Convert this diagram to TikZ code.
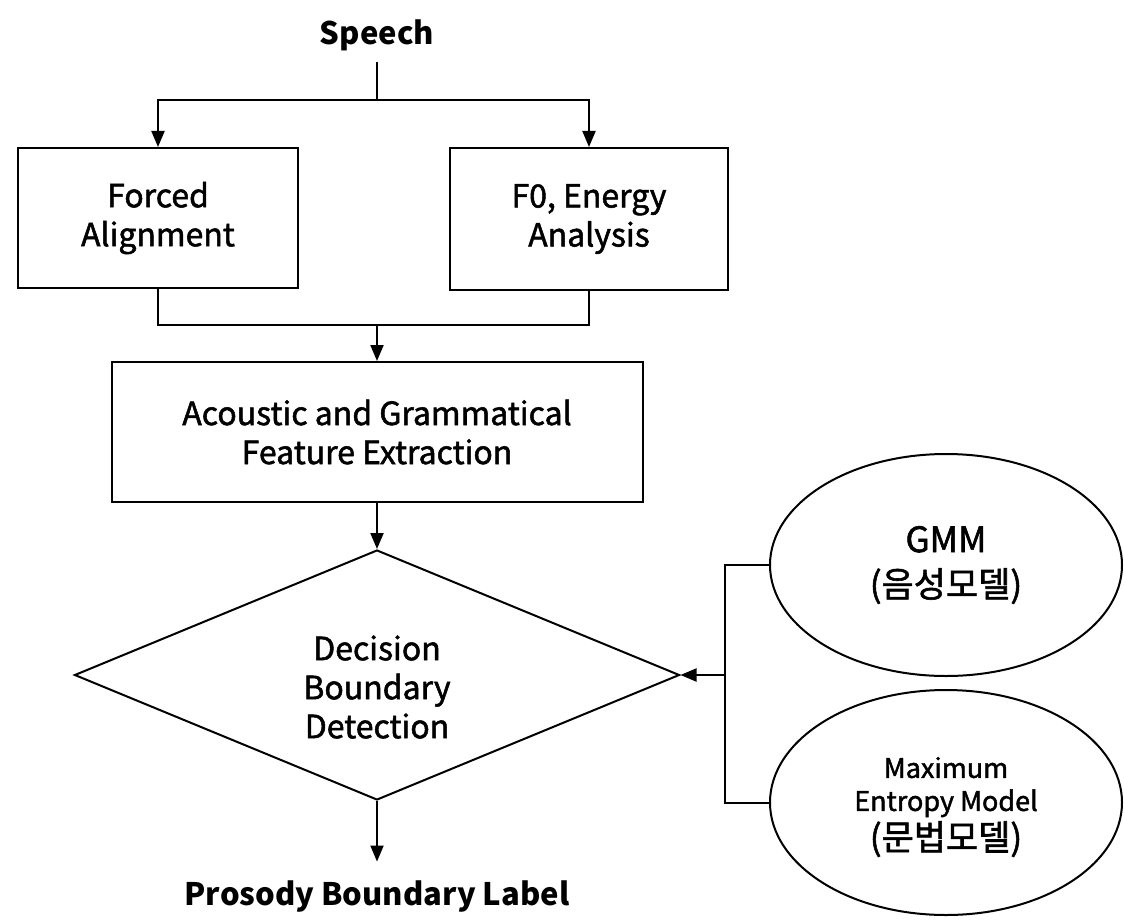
\documentclass[tikz,border=0pt]{standalone}
\usepackage{fontspec}
\setmainfont{Noto Sans CJK KR}
\newfontfamily\medfont{Noto Sans CJK KR}[FakeBold=1.6]
\usetikzlibrary{shapes.geometric,arrows.meta}
\begin{document}
\begin{tikzpicture}[x=0.5pt,y=-0.5pt,
  line width=1pt,
  arr/.style={-{Triangle[length=8pt,width=6.5pt]}},
  mainfont/.style={font=\medfont\fontsize{16}{19.5}\selectfont},
  procbox/.style={draw,rectangle,inner sep=0pt,align=center,mainfont},
  titletext/.style={font=\bfseries\fontsize{15.5}{19}\selectfont},
  model/.style={draw,ellipse,minimum width=176pt,minimum height=111pt,inner sep=0pt}]
\useasboundingbox (0,0) rectangle (1124,920);
\node[titletext] (speech) at (377,35) {Speech};
\coordinate (sp) at (377,62);
\coordinate (fork) at (377,100);
\node[procbox,minimum width=140pt,minimum height=70pt] (fa) at (158,218) {Forced\\Alignment};
\node[procbox,minimum width=139pt,minimum height=71pt] (f0) at (589,219) {F0, Energy\\Analysis};
\coordinate (merge) at (377,325);
\node[procbox,minimum width=265.5pt,minimum height=70pt] (feat) at (377,432) {Acoustic and Grammatical\\Feature Extraction};
\node[draw,diamond,minimum width=302.5pt,minimum height=125pt,inner sep=0pt] (dec) at (377,675) {};
\node[mainfont,align=center] (dect) at (377,687) {Decision\\Boundary\\Detection};
\node[titletext] (label) at (377,897) {Prosody Boundary Label};
\node[model] (gmm) at (946,565) {};
\node[align=center,font=\medfont\fontsize{17.5}{22.5}\selectfont] (gmmt) at (946,565) {GMM\\(음성모델)};
\node[model,minimum height=112.5pt] (mem) at (946,802.5) {};
\node[align=center,font=\medfont\fontsize{13.5}{16.5}\selectfont] (memt) at (946,807) {Maximum\\Entropy Model\\[1pt]\fontsize{17.5}{19}\selectfont(문법모델)};
\coordinate (bus) at (725,675);
% connectors
\draw (sp) -- (fork);
\draw[arr] (fork) -| (fa.north);
\draw[arr] (fork) -| (f0.north);
\draw (fa.south) |- (merge) -| (f0.south);
\draw[arr] (merge) -- (feat.north);
\draw[arr] (feat.south) -- (dec.north);
\draw[arr] (dec.south) -- ([yshift=6pt]label.north);
\draw (gmm.west) -| (bus) |- (mem.west);
\draw[arr] (bus) -- (dec.east);
\end{tikzpicture}
\end{document}
